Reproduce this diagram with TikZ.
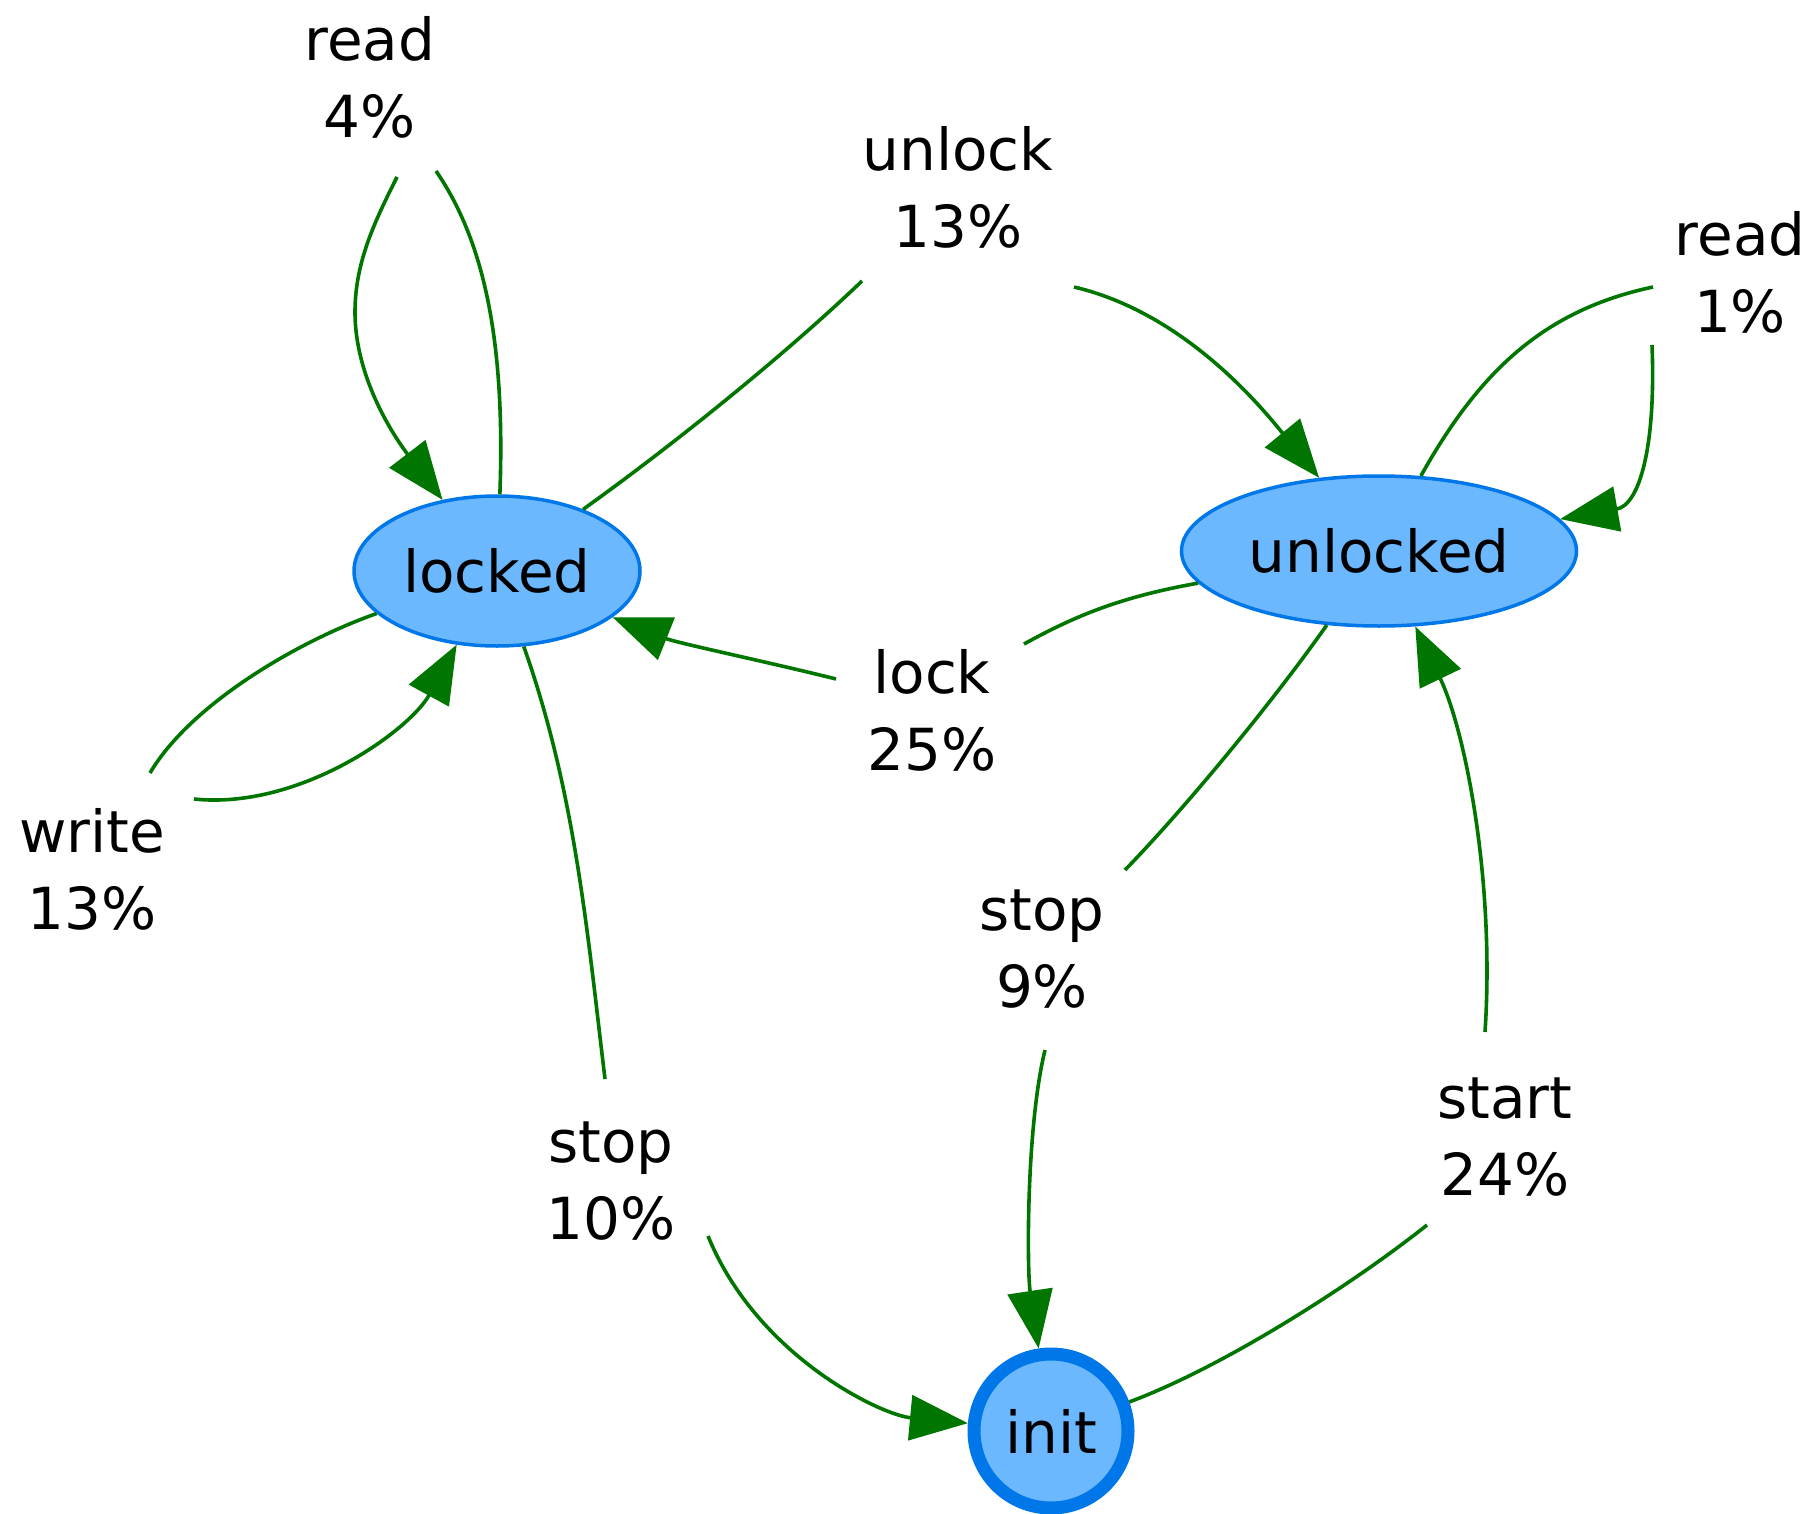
\documentclass[tikz,border=0pt]{standalone}
\usepackage{fontspec}
\setmainfont{DejaVu Sans}
\usetikzlibrary{arrows.meta,shapes.geometric}
\definecolor{edgegreen}{RGB}{0,118,0}
\definecolor{statefill}{RGB}{108,184,255}
\definecolor{stateline}{RGB}{0,119,232}
\begin{document}
\begin{tikzpicture}[x=1pt,y=-1pt,
  labelfont/.style={font=\fontsize{58}{77}\selectfont},
  stateshape/.style={ellipse, draw=stateline, fill=statefill, line width=3.5pt,
    inner sep=0pt, labelfont},
  lbl/.style={align=center, inner sep=0pt, labelfont},
  link/.style={draw=edgegreen, line width=3.6pt},
  arr/.style={link, -{Triangle[length=58pt,width=45pt]}},
]
\useasboundingbox (0,0) rectangle (1815,1514);

% states
\node[stateshape, minimum width=286pt, minimum height=150pt] (locked) at (497,571) {locked};
\node[stateshape, minimum width=395pt, minimum height=150pt] (unlocked) at (1379,551) {unlocked};
\node[circle, draw=stateline, fill=statefill, line width=13pt, inner sep=0pt,
  minimum size=154pt, labelfont] (init) at (1051,1431) {init};

% transition labels
\node[lbl] (lread4)   at (370,77)    {read\\4\%};
\node[lbl] (lunlock)  at (958,187)   {unlock\\13\%};
\node[lbl] (lread1)   at (1740,272)  {read\\1\%};
\node[lbl] (llock)    at (932,710)   {lock\\25\%};
\node[lbl] (lwrite)   at (92,869)    {write\\13\%};
\node[lbl] (lstop9)   at (1042,949)  {stop\\9\%};
\node[lbl] (lstart)   at (1505,1137) {start\\24\%};
\node[lbl] (lstop10)  at (611,1181)  {stop\\10\%};

% ends of the edge pieces beside the labels
\coordinate (r4a) at (436,171);
\coordinate (r4b) at (397,177);
\coordinate (w13a) at (150,773);
\coordinate (w13b) at (194,799);
\coordinate (u13a) at (862,281);
\coordinate (u13b) at (1074,287);
\coordinate (r1a) at (1653,287);
\coordinate (r1b) at (1652,345);
\coordinate (l25a) at (1024,644);
\coordinate (l25b) at (836,679);
\coordinate (s9a) at (1125,870);
\coordinate (s9b) at (1045,1050);
\coordinate (st24a) at (1427,1225);
\coordinate (st24b) at (1485,1032);
\coordinate (s10a) at (605,1079);
\coordinate (s10b) at (708,1236);

% locked --read--> locked
\draw[link] (locked) .. controls (506,330) and (480,235) .. (r4a);
\draw[arr] (r4b) .. controls (375,221) and (355,262) .. (355,312)
  .. controls (355,382) and (399,443) .. (locked);
% locked --write--> locked
\draw[link] (locked) .. controls (296,642) and (190,705) .. (w13a);
\draw[arr] (w13b) .. controls (300,810) and (410,730) .. (locked);
% locked --unlock--> unlocked
\draw[link] (locked) .. controls (680,440) and (790,350) .. (u13a);
\draw[arr] (u13b) .. controls (1185,313) and (1262,408) .. (unlocked);
% unlocked --read--> unlocked
\draw[link] (unlocked) .. controls (1480,370) and (1545,310) .. (r1a);
\draw[arr] (r1b) .. controls (1656,445) and (1640,505) .. (unlocked);
% unlocked --lock--> locked
\draw[link] (unlocked) .. controls (1120,597) and (1075,616) .. (l25a);
\draw[arr] (l25b) .. controls (768,662) and (677,643) .. (locked);
% unlocked --stop--> init
\draw[link] (unlocked) .. controls (1274,700) and (1188,805) .. (s9a);
\draw[arr] (s9b) .. controls (1026,1128) and (1027,1271) .. (init);
% init --start--> unlocked
\draw[link] (init) .. controls (1226,1366) and (1357,1281) .. (st24a);
\draw[arr] (st24b) .. controls (1495,880) and (1465,730) .. (unlocked);
% locked --stop--> init
\draw[link] (locked) .. controls (575,791) and (587,930) .. (s10a);
\draw[arr] (s10b) .. controls (757,1356) and (881,1415) .. (init);
\end{tikzpicture}
\end{document}
